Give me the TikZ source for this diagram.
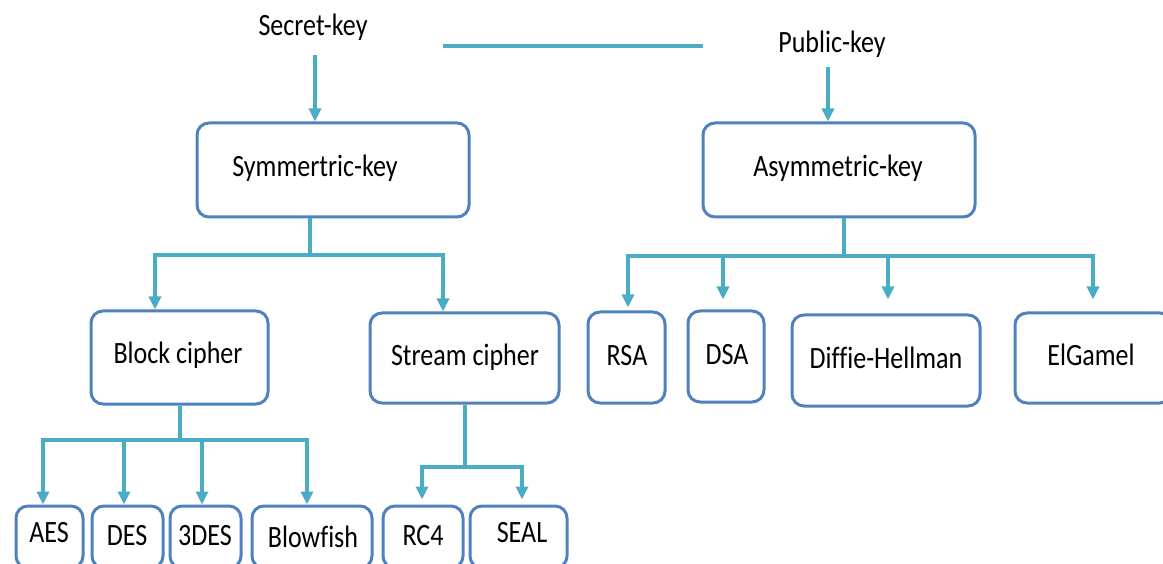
\documentclass[tikz,border=0pt]{standalone}
\usepackage{fontspec}
\setmainfont{Carlito}[FakeStretch=0.84,Ligatures=NoCommon]
\usetikzlibrary{arrows.meta}
\definecolor{boxblue}{RGB}{79,129,189}
\definecolor{linkteal}{RGB}{75,172,198}
\begin{document}
\begin{tikzpicture}[x=1pt,y=-1pt,
  box/.style={draw=boxblue,line width=3pt,rounded corners=12pt,inner sep=0pt},
  lbl/.style={anchor=base,inner sep=0pt,font=\fontsize{31}{37}\selectfont},
  conn/.style={draw=linkteal,line width=4pt},
  arrowlink/.style={conn,-{Triangle[length=13pt,width=12pt]}},
  arrowboth/.style={conn,{Triangle[length=13pt,width=12pt]}-{Triangle[length=13pt,width=12pt]}}]
\clip (0,0) rectangle (1163,564);

% top labels
\node[lbl] (sk) at (313,36) {Secret-key};
\node[lbl] (pk) at (832,53) {Public-key};

% boxes
\node[box,minimum width=272pt,minimum height=94pt] (sym)  at (333,170) {};
\node[box,minimum width=272pt,minimum height=94pt] (asym) at (839,170) {};
\node[box,minimum width=177pt,minimum height=93pt] (blk)  at (179.5,357.5) {};
\node[box,minimum width=189pt,minimum height=90pt] (str)  at (464.5,358) {};
\node[box,minimum width=77pt,minimum height=91pt]  (rsa)  at (626.5,357.5) {};
\node[box,minimum width=76pt,minimum height=91pt]  (dsa)  at (726,356.5) {};
\node[box,minimum width=188pt,minimum height=91pt] (dh)   at (886,360.5) {};
\node[box,minimum width=157pt,minimum height=90pt] (elg)  at (1093.5,358) {};
\node[box,minimum width=67pt,minimum height=62pt]  (aes)  at (49.5,537) {};
\node[box,minimum width=71pt,minimum height=62pt]  (des)  at (127.5,537) {};
\node[box,minimum width=71pt,minimum height=62pt]  (tdes) at (205.5,537) {};
\node[box,minimum width=120pt,minimum height=62pt] (blow) at (312,537) {};
\node[box,minimum width=80pt,minimum height=62pt]  (rc4)  at (423,537) {};
\node[box,minimum width=97pt,minimum height=62pt]  (seal) at (518.5,537) {};

% box labels
\node[lbl] (symT)  at (315,177) {Symmertric-key};
\node[lbl] (asymT) at (838,177) {Asymmetric-key};
\node[lbl] (blkT)  at (178,363) {Block cipher};
\node[lbl] (strT)  at (465,365) {Stream cipher};
\node[lbl] (rsaT)  at (627,365) {RSA};
\node[lbl] (dsaT)  at (727,364) {DSA};
\node[lbl] (dhT)   at (886,368) {Diffie-Hellman};
\node[lbl] (elgT)  at (1091,366) {ElGamel};
\node[lbl] (aesT)  at (49,542) {AES};
\node[lbl] (desT)  at (127,545) {DES};
\node[lbl] (tdesT) at (205,545) {3DES};
\node[lbl] (blowT) at (313,547) {Blowfish};
\node[lbl] (rc4T)  at (423,545) {RC4};
\node[lbl] (sealT) at (522,542) {SEAL};

% top connectors
\coordinate (skTail) at (315,55);
\coordinate (pkTail) at (828,67);
\coordinate (hlA) at (443,46);
\coordinate (hlB) at (703,46);
\draw[arrowlink] (skTail) -- (skTail |- sym.north);
\draw[arrowlink] (pkTail) -- (pkTail |- asym.north);
\draw[conn] (hlA) -- (hlB);

% symmetric-key branches
\coordinate (symJ) at (310,255);
\coordinate (blkIn) at (155,255);
\coordinate (strIn) at (443,255);
\draw[conn] (symJ |- sym.south) -- (symJ);
\draw[arrowboth] (blkIn |- blk.north) -- (blkIn) -- (strIn) -- (strIn |- str.north);

% block cipher branches
\coordinate (blkJ) at (180,440);
\coordinate (aesIn) at (43,440);
\coordinate (desIn) at (124,440);
\coordinate (tdesIn) at (202,440);
\coordinate (blowIn) at (307,440);
\draw[conn] (blkJ |- blk.south) -- (blkJ);
\draw[arrowboth] (aesIn |- aes.north) -- (aesIn) -- (blowIn) -- (blowIn |- blow.north);
\draw[arrowlink] (desIn) -- (desIn |- des.north);
\draw[arrowlink] (tdesIn) -- (tdesIn |- tdes.north);

% stream cipher branches
\coordinate (strJ) at (465,467);
\coordinate (rc4In) at (422,467);
\coordinate (sealIn) at (522,467);
\draw[conn] (strJ |- str.south) -- (strJ);
\draw[arrowboth,shorten <=5pt,shorten >=5pt] (rc4In |- rc4.north) -- (rc4In) -- (sealIn) -- (sealIn |- seal.north);

% asymmetric-key branches
\coordinate (asymJ) at (844,256);
\coordinate (rsaIn) at (628,256);
\coordinate (dsaIn) at (723,256);
\coordinate (dhIn) at (888,256);
\coordinate (elgIn) at (1093,256);
\draw[conn] (asymJ |- asym.south) -- (asymJ);
\draw[arrowboth,shorten <=3pt,shorten >=12pt] (rsaIn |- rsa.north) -- (rsaIn) -- (elgIn) -- (elgIn |- elg.north);
\draw[arrowlink,shorten >=10pt] (dsaIn) -- (dsaIn |- dsa.north);
\draw[arrowlink,shorten >=14pt] (dhIn) -- (dhIn |- dh.north);
\end{tikzpicture}
\end{document}
